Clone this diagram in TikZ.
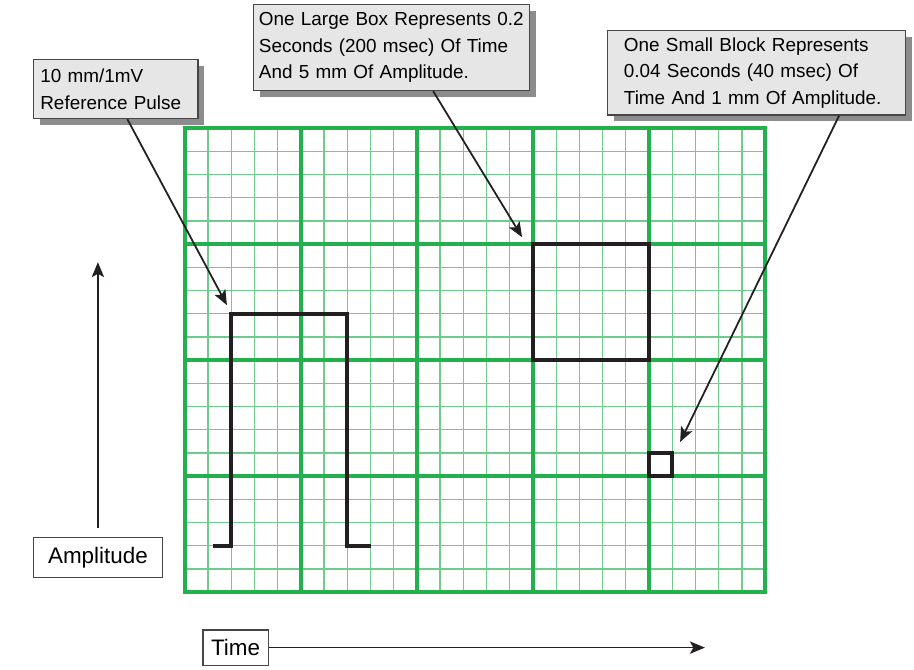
\documentclass[tikz,border=0pt]{standalone}
\usepackage{fontspec}
\setmainfont{Liberation Sans}
\usetikzlibrary{arrows.meta,calc,shadows,positioning}
\definecolor{ecgmajor}{RGB}{34,177,76}
\definecolor{ecgminor}{RGB}{110,205,140}
\definecolor{notefill}{RGB}{230,230,230}
\definecolor{noteline}{RGB}{70,70,70}
\definecolor{ink}{RGB}{35,31,32}

\begin{document}
\begin{tikzpicture}[x=0.6cm,y=0.6cm,>={Stealth[length=11pt,width=9pt,inset=2.5pt]},
  font=\fontsize{13.9}{19.5}\selectfont,
  note/.style={draw=noteline,fill=notefill,line width=0.9pt,anchor=north west,
    align=left,inner ysep=5pt,
    drop shadow={shadow xshift=4.5pt,shadow yshift=-4.5pt,fill=black!45,opacity=1}},
  tag/.style={draw=noteline,fill=white,line width=0.9pt,
    font=\fontsize{16.5}{20}\selectfont,inner ysep=0pt},
  pointer/.style={->,ink,line width=1.3pt},
  trace/.style={ink,line width=3pt,line join=miter}]
  \useasboundingbox (-7.97,-3.32) rectangle (31.42,25.52);
  % ---------------- paper: 1 mm blocks, 5 mm boxes ----------------
  \draw[ecgminor,line width=1pt] (0,0) grid[step=1] (25,20);
  \draw[ecgmajor,line width=2.6pt] (0,0) grid[step=5] (25,20);
  \draw[ecgmajor,line width=3pt] (0,0) rectangle (25,20);
  % 10 mm calibration pulse, one large box, one small block
  \draw[trace] (1.2,2) -- (2,2) -- (2,12) -- (7,12) -- (7,2) -- (8,2);
  \draw[trace] (15,10) rectangle (20,15);
  \draw[trace] (20,5) rectangle (21,6);
  % ---------------- callouts ----------------
  \node[note,text width=3.9cm,inner xsep=5pt,minimum height=1.52cm] (pulsenote)
    at (-6.55,22.97) {10 mm/1mV\\Reference Pulse};
  \node[note,text width=6.86cm,inner xsep=4pt,minimum height=2.22cm] (bignote)
    at (2.93,25.34) {One Large Box Represents 0.2\\Seconds (200 msec) Of Time\\And 5 mm Of Amplitude.};
  \node[note,text width=6.86cm,inner xsep=12pt,minimum height=2.04cm] (smallnote)
    at (18.19,24.22) {One Small Block Represents\\0.04 Seconds (40 msec) Of\\Time And 1 mm Of Amplitude.};
  \coordinate (pulsetip) at (1.81,12.37);
  \coordinate (bigtip) at (14.53,15.3);
  \coordinate (smalltip) at (21.34,6.47);
  \draw[pointer] ($(pulsenote.south west)!0.57!(pulsenote.south east)$) -- (pulsetip);
  \draw[pointer] ($(bignote.south west)!0.65!(bignote.south east)$) -- (bigtip);
  \draw[pointer] ($(smallnote.south west)!0.776!(smallnote.south east)$) -- (smalltip);
  % ---------------- axes ----------------
  \node[tag,minimum width=95pt,minimum height=29pt] (amplabel) at (-3.75,1.49) {Amplitude};
  \coordinate (amptop) at (-3.75,14.22);
  \draw[pointer,shorten <=7pt] (amplabel.north) -- (amptop);
  \node[tag,minimum width=48pt,minimum height=26pt] (timelabel) at (2.18,-2.39) {Time};
  \coordinate (timeend) at (22.41,-2.39);
  \draw[pointer] (timelabel.east) -- (timeend);
\end{tikzpicture}
\end{document}
